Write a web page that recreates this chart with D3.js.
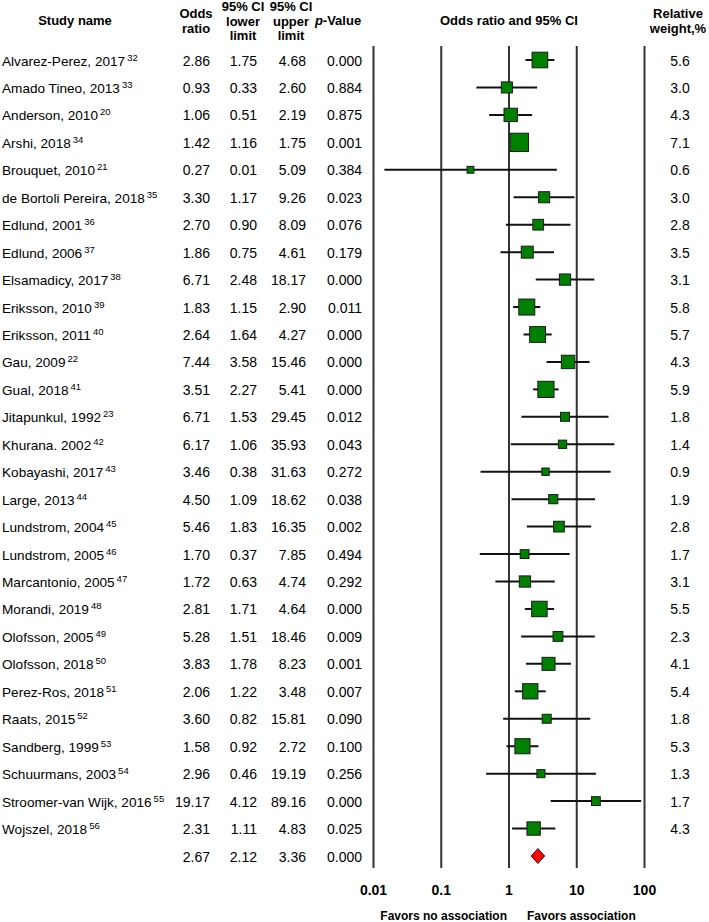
<!DOCTYPE html>
<html><head><meta charset="utf-8">
<script src="https://cdn.jsdelivr.net/npm/d3@7"></script>
<style>body{margin:0;background:#fff}svg{display:block}text{font-family:"Liberation Sans",Arial,sans-serif;fill:#000}</style>
</head><body>
<script>
const studyNames = ["Alvarez-Perez, 2017","Amado Tineo, 2013","Anderson, 2010","Arshi, 2018","Brouquet, 2010","de Bortoli Pereira, 2018","Edlund, 2001","Edlund, 2006","Elsamadicy, 2017","Eriksson, 2010","Eriksson, 2011","Gau, 2009","Gual, 2018","Jitapunkul, 1992","Khurana. 2002","Kobayashi, 2017","Large, 2013","Lundstrom, 2004","Lundstrom, 2005","Marcantonio, 2005","Morandi, 2019","Olofsson, 2005","Olofsson, 2018","Perez-Ros, 2018","Raats, 2015","Sandberg, 1999","Schuurmans, 2003","Stroomer-van Wijk, 2016","Wojszel, 2018"];
const refs = [32,33,20,34,21,35,36,37,38,39,40,22,41,23,42,43,44,45,46,47,48,49,50,51,52,53,54,55,56];
const oddsRatio = [2.86,0.93,1.06,1.42,0.27,3.30,2.70,1.86,6.71,1.83,2.64,7.44,3.51,6.71,6.17,3.46,4.50,5.46,1.70,1.72,2.81,5.28,3.83,2.06,3.60,1.58,2.96,19.17,2.31];
const lowerLimit = [1.75,0.33,0.51,1.16,0.0145,1.17,0.90,0.75,2.48,1.15,1.64,3.58,2.27,1.53,1.06,0.38,1.09,1.83,0.37,0.63,1.71,1.51,1.78,1.22,0.82,0.92,0.46,4.12,1.11];
const upperLimit = [4.68,2.60,2.19,1.75,5.09,9.26,8.09,4.61,18.17,2.90,4.27,15.46,5.41,29.45,35.93,31.63,18.62,16.35,7.85,4.74,4.64,18.46,8.23,3.48,15.81,2.72,19.19,89.16,4.83];
const pValues = ["0.000","0.884","0.875","0.001","0.384","0.023","0.076","0.179","0.000","0.011","0.000","0.000","0.000","0.012","0.043","0.272","0.038","0.002","0.494","0.292","0.000","0.009","0.001","0.007","0.090","0.100","0.256","0.000","0.025"];
const weights = [5.6,3.0,4.3,7.1,0.6,3.0,2.8,3.5,3.1,5.8,5.7,4.3,5.9,1.8,1.4,0.9,1.9,2.8,1.7,3.1,5.5,2.3,4.1,5.4,1.8,5.3,1.3,1.7,4.3];
const summary = {or: 2.67, lower: 2.12, upper: 3.36, p: "0.000"};
const axisTicks = [0.01, 0.1, 1, 10, 100];
const axisTickLabels = ["0.01","0.1","1","10","100"];

const W = 709, H = 922;
const svg = d3.select("body").append("svg").attr("width", W).attr("height", H);

const n = studyNames.length;
const y = d3.scaleLinear().domain([0, n]).range([60, 856]);
const x = d3.scaleLog().domain([0.01, 100]).range([373.5, 644.5]);
const side = d3.scaleLinear().domain([0, 7.1]).range([5.8, 18.3]);
const fmt = d3.format(".2f");

// Header
const hdr = svg.append("g").attr("font-weight", "bold").attr("font-size", 13).attr("text-anchor", "middle");
function hText(cx, lines, y0, dy) {
  lines.forEach((l, i) => hdr.append("text").attr("x", cx).attr("y", y0 + i * dy).text(l));
}
hText(75, ["Study name"], 25, 0);
hText(196, ["Odds", "ratio"], 18, 15);
hText(243, ["95% CI", "lower", "limit"], 11, 14.5);
hText(291, ["95% CI", "upper", "limit"], 11, 14.5);
const pv = hdr.append("text").attr("x", 338).attr("y", 25);
pv.append("tspan").attr("font-style", "italic").text("p");
pv.append("tspan").text("-Value");
hText(509, ["Odds ratio and 95% CI"], 25, 0);
hText(678, ["Relative", "weight,%"], 18, 15);

// Vertical reference lines
svg.append("g").selectAll("line").data(axisTicks).join("line")
  .attr("x1", d => x(d)).attr("x2", d => x(d))
  .attr("y1", 46).attr("y2", 868)
  .attr("stroke", "#333").attr("stroke-width", 2);

// Rows
const rows = svg.append("g").attr("font-size", 14);
studyNames.forEach((name, i) => {
  const yy = y(i) + 5.5;
  const t = rows.append("text").attr("x", 2).attr("y", yy).attr("font-size", 13.6);
  t.append("tspan").text(name);
  t.append("tspan").attr("font-size", 9.5).attr("dx", 2).attr("dy", -5).text(refs[i]);
  rows.append("text").attr("x", 210).attr("y", yy).attr("text-anchor", "end").text(fmt(oddsRatio[i]));
  rows.append("text").attr("x", 257).attr("y", yy).attr("text-anchor", "end").text(fmt(lowerLimit[i]));
  rows.append("text").attr("x", 306).attr("y", yy).attr("text-anchor", "end").text(fmt(upperLimit[i]));
  rows.append("text").attr("x", 362).attr("y", yy).attr("text-anchor", "end").text(pValues[i]);
  rows.append("text").attr("x", 680).attr("y", yy).attr("text-anchor", "middle").text(weights[i].toFixed(1));
});
// Summary row text
{
  const yy = y(n) + 5.5;
  rows.append("text").attr("x", 210).attr("y", yy).attr("text-anchor", "end").text(fmt(summary.or));
  rows.append("text").attr("x", 257).attr("y", yy).attr("text-anchor", "end").text(fmt(summary.lower));
  rows.append("text").attr("x", 306).attr("y", yy).attr("text-anchor", "end").text(fmt(summary.upper));
  rows.append("text").attr("x", 362).attr("y", yy).attr("text-anchor", "end").text(summary.p);
}

// CI lines
const marks = svg.append("g");
marks.selectAll("line.ci").data(d3.range(n)).join("line").attr("class", "ci")
  .attr("x1", i => x(lowerLimit[i])).attr("x2", i => x(upperLimit[i]))
  .attr("y1", i => y(i)).attr("y2", i => y(i))
  .attr("stroke", "#111").attr("stroke-width", 2);
marks.selectAll("rect").data(d3.range(n)).join("rect")
  .attr("x", i => x(oddsRatio[i]) - side(weights[i]) / 2)
  .attr("y", i => y(i) - side(weights[i]) / 2)
  .attr("width", i => side(weights[i])).attr("height", i => side(weights[i]))
  .attr("fill", "#008000").attr("stroke", "#1a1a1a").attr("stroke-width", 1);

// Summary diamond
const yd = y(n), hh = 7.5;
marks.append("path")
  .attr("d", `M${x(summary.lower)},${yd} L${x(summary.or)},${yd - hh} L${x(summary.upper)},${yd} L${x(summary.or)},${yd + hh} Z`)
  .attr("fill", "#ff0000").attr("stroke", "#222").attr("stroke-width", 1);

// Axis labels
svg.append("g").attr("font-weight", "bold").attr("font-size", 14).attr("text-anchor", "middle")
  .selectAll("text").data(axisTicks).join("text")
  .attr("x", d => x(d)).attr("y", 895).text((d, i) => axisTickLabels[i]);

const fav = svg.append("g").attr("font-weight", "bold").attr("font-size", 12);
fav.append("text").attr("x", 507).attr("y", 920).attr("text-anchor", "end").text("Favors no association");
fav.append("text").attr("x", 527).attr("y", 920).attr("text-anchor", "start").text("Favors association");
</script>
</body></html>
